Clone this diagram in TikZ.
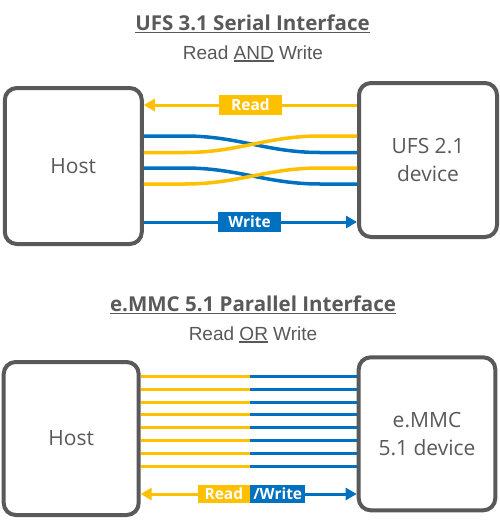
\documentclass[tikz,border=0pt]{standalone}
\usepackage{fontspec}
\setmainfont{Open Sans}
\newfontfamily\subfont{Liberation Sans}
\usetikzlibrary{arrows.meta}
\definecolor{ufsyel}{HTML}{FFC000}
\definecolor{ufsblu}{HTML}{0070C0}
\definecolor{boxgray}{HTML}{595959}
\newcommand{\undl}[2][3pt]{\setbox0\hbox{#2}\rlap{\rule[-#1]{\wd0}{1.6pt}}\box0\relax}
\tikzset{
	ttl/.style = {
		text=boxgray,
		inner sep=0pt,
		font=\bfseries\fontsize{20.5}{24}\selectfont
	},
	subttl/.style = {
		text=boxgray,
		inner sep=0pt,
		font=\subfont\fontsize{19}{22}\selectfont
	},
	box_dev/.style = {
		draw=boxgray,
		line width=4pt,
		rounded corners=12pt,
		fill=white,
		align=center,
		text=boxgray,
		font=\fontsize{21}{28}\selectfont
	},
	lbl/.style = {
		inner sep=0pt,
		text=white,
		font=\bfseries\fontsize{15.5}{18}\selectfont,
		minimum width=63pt,
		minimum height=20pt
	},
	lbl_rd/.style = {
		lbl,
		fill=ufsyel
	},
	lbl_wr/.style = {
		lbl,
		fill=ufsblu
	},
	arr_rd/.style = {
		draw=ufsyel,
		line width=3pt
	},
	arr_wr/.style = {
		draw=ufsblu,
		line width=3pt
	},
	wire_y/.style = {
		arr_rd,
		line width=3.5pt
	},
	wire_b/.style = {
		arr_wr,
		line width=3.5pt
	},
}

\begin{document}
\begin{tikzpicture}[x=1pt,y=-1pt,>={Triangle[length=11pt,width=12pt]}]
\useasboundingbox[fill=white] (0,0) rectangle (500,520);
% serial interface
\node [ttl] (ttlA) at (252.5,24) {\undl{UFS 3.1 Serial Interface}};
\node [subttl] (subA) at (253,53.5) {Read \undl[2.5pt]{AND} Write};
\node [box_dev, minimum width=137pt, minimum height=156pt] (hostA) at (73.3,166) {Host};
\node [box_dev, minimum width=138pt, minimum height=154pt] (ufsA) at (428,160) {UFS 2.1\\device};
\node [lbl_rd] (rdA) at (250.5,105) {Read};
\node [lbl_wr] (wrA) at (249.5,222) {Write};
\draw [arr_rd] (ufsA.west |- rdA) -- (rdA.east);
\draw [arr_rd,->] (rdA.west) -- (hostA.east |- rdA);
\draw [arr_wr] (hostA.east |- wrA) -- (wrA.west);
\draw [arr_wr,->] (wrA.east) -- (ufsA.west |- wrA);
\foreach \ya/\yb in {136/152.5, 168/184}{
	\draw [wire_b] (hostA.east |- 0,\ya) -- (185,\ya) to[out=0,in=180] (320,\yb) -- (ufsA.west |- 0,\yb);
	\draw [wire_y] (hostA.east |- 0,\yb) -- (185,\yb) to[out=0,in=180] (320,\ya) -- (ufsA.west |- 0,\ya);
}
% parallel interface
\node [ttl] (ttlB) at (253,305) {\undl{e.MMC 5.1 Parallel Interface}};
\node [subttl] (subB) at (253,334.5) {Read \undl[2.5pt]{OR} Write};
\node [box_dev, minimum width=135pt, minimum height=153pt] (hostB) at (71.2,438.5) {Host};
\node [box_dev, minimum width=136.6pt, minimum height=153pt] (emmcB) at (427,433.8) {e.MMC\\5.1 device};
\coordinate (midB) at (250,0);
\foreach \i [evaluate=\i as \yy using 376.5+12.8*\i] in {0,...,7}{
	\draw [arr_rd] (hostB.east |- 0,\yy) -- (midB |- 0,\yy);
	\draw [arr_wr] (midB |- 0,\yy) -- (emmcB.west |- 0,\yy);
}
\node [lbl_rd, minimum width=52pt, minimum height=18pt, anchor=east] (rdB) at (250,494) {Read};
\node [lbl_wr, minimum width=55pt, minimum height=18pt, anchor=west] (wrB) at (250,494) {/Write};
\draw [arr_rd,->] (rdB.west) -- (hostB.east |- rdB);
\draw [arr_wr,->] (wrB.east) -- (emmcB.west |- wrB);
\end{tikzpicture}
\end{document}
